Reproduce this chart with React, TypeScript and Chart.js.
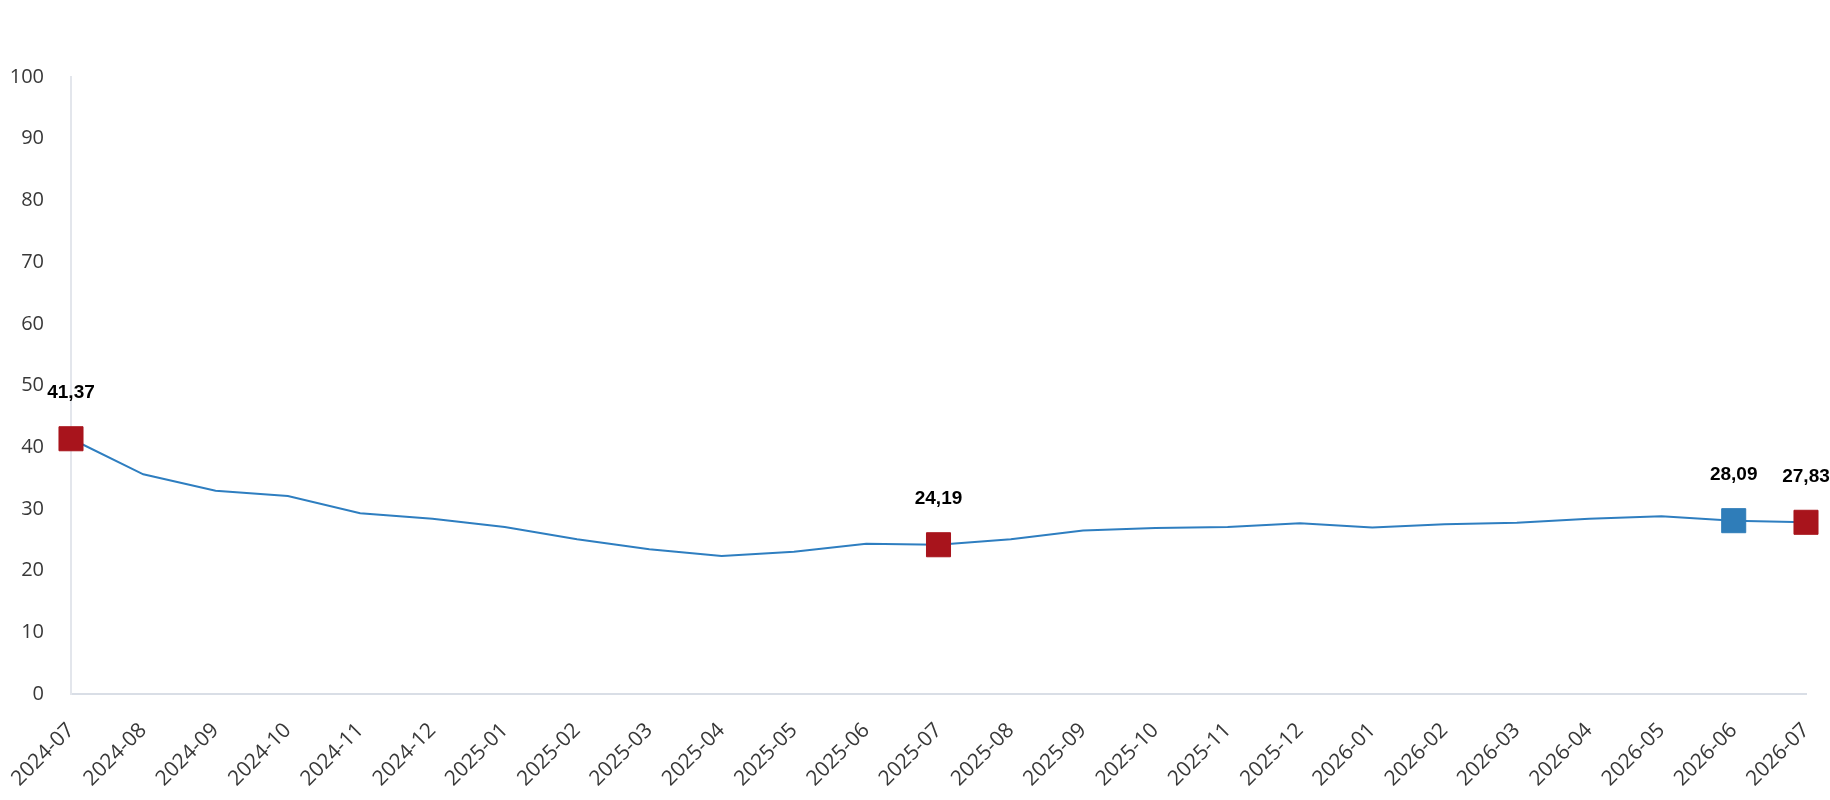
import React, { useEffect, useRef } from "react";
import { Chart, registerables } from "chart.js";

Chart.register(...registerables);

const categories: string[] = [
  "2024-07", "2024-08", "2024-09", "2024-10", "2024-11", "2024-12",
  "2025-01", "2025-02", "2025-03", "2025-04", "2025-05", "2025-06",
  "2025-07", "2025-08", "2025-09", "2025-10", "2025-11", "2025-12",
  "2026-01", "2026-02", "2026-03", "2026-04", "2026-05", "2026-06", "2026-07",
];

const values: number[] = [
  41.37, 35.6, 32.95, 32.1, 29.3, 28.4,
  27.07, 25.07, 23.45, 22.37, 23.06, 24.36,
  24.19, 25.1, 26.5, 26.9, 27.07, 27.66,
  27.0, 27.5, 27.77, 28.4, 28.8, 28.09, 27.83,
];

const highlightIndices: number[] = [0, 12, 23, 24];
const highlightColors: string[] = ["#A8141C", "#A8141C", "#2F7DB9", "#A8141C"];

const yTicks: number[] = [0, 10, 20, 30, 40, 50, 60, 70, 80, 90, 100];

const LINE_COLOR = "#2E7EC0";

const fmt = (v: number) => v.toFixed(2).replace(".", ",");

const labelPlugin = {
  id: "pointLabels",
  afterDatasetsDraw(chart: any) {
    const meta = chart.getDatasetMeta(0);
    const ctx = chart.ctx;
    ctx.save();
    ctx.font = "bold 19px 'Liberation Sans', Arial, sans-serif";
    ctx.fillStyle = "#000000";
    ctx.textAlign = "center";
    ctx.textBaseline = "middle";
    highlightIndices.forEach((i) => {
      const el = meta.data[i];
      if (!el) return;
      ctx.fillText(fmt(values[i]), el.x, el.y - 46);
    });
    ctx.restore();
  },
};

export default function App() {
  const ref = useRef<HTMLCanvasElement | null>(null);

  useEffect(() => {
    document.body.style.margin = "0";
    if (!ref.current) return;
    const radii = values.map((_, i) => (highlightIndices.includes(i) ? 17 : 0));
    const fills = values.map((_, i) => {
      const k = highlightIndices.indexOf(i);
      return k >= 0 ? highlightColors[k] : LINE_COLOR;
    });
    const chart = new Chart(ref.current, {
      type: "line",
      data: {
        labels: categories,
        datasets: [
          {
            data: values,
            borderColor: LINE_COLOR,
            borderWidth: 2,
            tension: 0,
            pointStyle: "rect",
            pointRadius: radii,
            pointHoverRadius: radii,
            pointBackgroundColor: fills,
            pointBorderColor: fills,
            pointBorderWidth: 1,
          },
        ],
      },
      options: {
        animation: false,
        responsive: false,
        maintainAspectRatio: false,
        layout: { padding: { top: 77, right: 24, left: 0, bottom: 0 } },
        plugins: {
          legend: { display: false },
          tooltip: { enabled: false },
        },
        scales: {
          x: {
            offset: false,
            grid: { display: false, drawTicks: false },
            border: { display: true, color: "#D9DEE6", width: 2 },
            ticks: {
              maxRotation: 45,
              minRotation: 45,
              autoSkip: false,
              padding: 24,
              color: "#383838",
              font: { family: "'Open Sans', 'Noto Sans', sans-serif", size: 21 },
            },
            afterFit(scale: any) {
              scale.height = 106;
              scale.paddingLeft = 0;
              scale.paddingRight = 0;
            },
          },
          y: {
            min: 0,
            max: 100,
            afterBuildTicks(scale: any) {
              scale.ticks = yTicks.map((v) => ({ value: v }));
            },
            grid: { display: false, drawTicks: false },
            border: { display: true, color: "#E3E6EC", width: 2 },
            ticks: {
              padding: 27,
              color: "#383838",
              font: { family: "'Open Sans', 'Noto Sans', sans-serif", size: 20 },
            },
            afterFit(scale: any) {
              scale.width = 71;
              scale.paddingTop = 0;
              scale.paddingBottom = 0;
            },
          },
        },
      },
      plugins: [labelPlugin],
    });
    return () => chart.destroy();
  }, []);

  return (
    <div style={{ width: 1830, height: 800 }}>
      <canvas ref={ref} width={1830} height={800} style={{ display: "block" }} />
    </div>
  );
}
